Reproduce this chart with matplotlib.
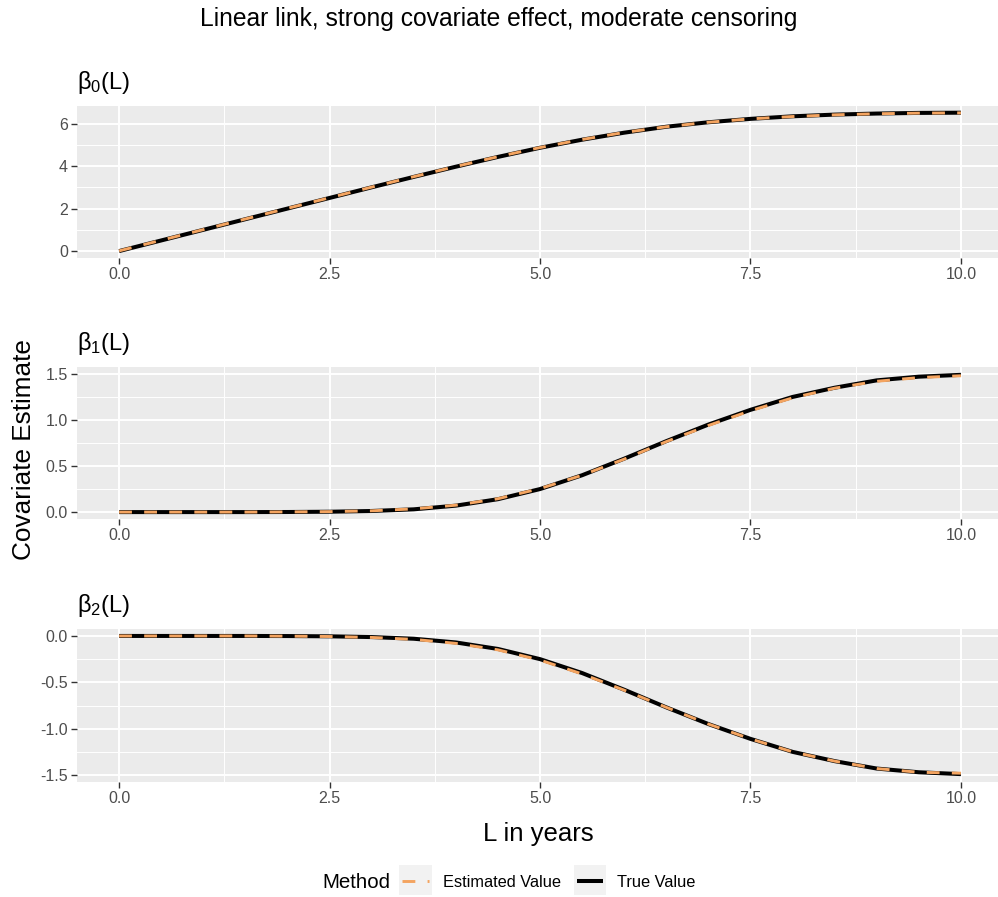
import matplotlib
matplotlib.use("Agg")
import matplotlib.pyplot as plt
from matplotlib.patches import Rectangle
from matplotlib.lines import Line2D

plt.rcParams['font.family'] = ['Liberation Sans', 'DejaVu Sans']
plt.rcParams['mathtext.fontset'] = 'custom'
plt.rcParams['mathtext.rm'] = 'Liberation Sans'
plt.rcParams['mathtext.it'] = 'Liberation Sans'

# ---------------- data ----------------
L = [0.0, 0.5, 1.0, 1.5, 2.0, 2.5, 3.0, 3.5, 4.0, 4.5, 5.0,
     5.5, 6.0, 6.5, 7.0, 7.5, 8.0, 8.5, 9.0, 9.5, 10.0]

beta0_true = [0.00, 0.50, 1.00, 1.50, 2.00, 2.50, 3.00, 3.49, 3.97, 4.43, 4.86,
              5.24, 5.57, 5.85, 6.06, 6.22, 6.34, 6.42, 6.47, 6.50, 6.51]
beta0_est = [0.01, 0.51, 1.01, 1.51, 2.01, 2.51, 3.01, 3.50, 3.98, 4.44, 4.87,
             5.25, 5.58, 5.85, 6.06, 6.22, 6.33, 6.41, 6.46, 6.49, 6.50]

beta1_true = [0.00, 0.00, 0.00, 0.00, 0.001, 0.004, 0.012, 0.03, 0.07, 0.14, 0.25,
              0.40, 0.58, 0.77, 0.95, 1.11, 1.25, 1.35, 1.43, 1.47, 1.49]
beta1_est = [0.00, 0.00, 0.00, 0.00, 0.002, 0.005, 0.014, 0.035, 0.075, 0.145, 0.255,
             0.40, 0.575, 0.765, 0.94, 1.10, 1.24, 1.345, 1.42, 1.46, 1.48]

beta2_true = [0.00, 0.00, 0.00, 0.00, -0.001, -0.004, -0.012, -0.03, -0.07, -0.14, -0.25,
              -0.40, -0.58, -0.77, -0.95, -1.11, -1.25, -1.35, -1.43, -1.47, -1.49]
beta2_est = [0.00, 0.00, 0.00, 0.00, -0.002, -0.006, -0.016, -0.037, -0.08, -0.15, -0.26,
             -0.41, -0.585, -0.77, -0.95, -1.11, -1.25, -1.35, -1.43, -1.47, -1.48]

panel_titles = [r'$\mathregular{\beta_0}$(L)', r'$\mathregular{\beta_1}$(L)', r'$\mathregular{\beta_2}$(L)']
x_ticks = [0.0, 2.5, 5.0, 7.5, 10.0]
x_minor = [1.25, 3.75, 6.25, 8.75]
y_ticks = [[0, 2, 4, 6], [0.0, 0.5, 1.0, 1.5], [-1.5, -1.0, -0.5, 0.0]]
y_minor = [[1, 3, 5], [0.25, 0.75, 1.25], [-1.25, -0.75, -0.25]]
y_labels = [['0', '2', '4', '6'], ['0.0', '0.5', '1.0', '1.5'], ['-1.5', '-1.0', '-0.5', '0.0']]
y_lims = [(-0.325, 6.825), (-0.075, 1.575), (-1.575, 0.075)]
series = [(beta0_true, beta0_est), (beta1_true, beta1_est), (beta2_true, beta2_est)]

# ---------------- figure ----------------
W, H = 998, 897
fig = plt.figure(figsize=(W / 100, H / 100), dpi=100)

ORANGE = '#F4A460'
BG = '#EBEBEB'
panels = [(106, 258), (367, 519), (629, 782)]
left_px, right_px = 77, 998

def fx(px):
    return px / W

def fy(py):
    return 1 - py / H

for i, (top, bot) in enumerate(panels):
    ax = fig.add_axes([fx(left_px), fy(bot), fx(right_px - left_px), (bot - top) / H])
    ax.set_facecolor(BG)
    for s in ax.spines.values():
        s.set_visible(False)
    ax.set_xlim(-0.5, 10.44)
    ax.set_ylim(*y_lims[i])
    ax.set_xticks(x_ticks)
    ax.set_xticklabels([f'{v:.1f}' for v in x_ticks])
    ax.set_xticks(x_minor, minor=True)
    ax.set_yticks(y_ticks[i])
    ax.set_yticklabels(y_labels[i])
    ax.set_yticks(y_minor[i], minor=True)
    ax.tick_params(which='major', length=4, width=1.0, color='#333333',
                   labelsize=11.5, labelcolor='#4D4D4D', pad=2.5)
    ax.tick_params(which='minor', length=0)
    ax.grid(which='major', color='white', linewidth=1.4)
    ax.grid(which='minor', color='white', linewidth=0.7)
    ax.set_axisbelow(True)

    true_v, est_v = series[i]
    ax.plot(L, true_v, color='black', linewidth=2.9, solid_capstyle='butt',
            solid_joinstyle='round', zorder=3)
    ax.plot(L, est_v, color=ORANGE, linewidth=2.1, linestyle=(0, (4.4, 4.2)),
            dash_capstyle='butt', dash_joinstyle='round', zorder=4)

    fig.text(fx(77), fy(top - 24), panel_titles[i], fontsize=17, ha='left', va='center',
             color='black')

# titles
fig.text(0.5, fy(19), 'Linear link, strong covariate effect, moderate censoring',
         fontsize=17.7, ha='center', va='center')
fig.text(fx(538), fy(834), 'L in years', fontsize=18.5, ha='center', va='center')
fig.text(fx(24), fy(450), 'Covariate Estimate', fontsize=18.8, rotation=90,
         ha='center', va='center')

# legend
fig.text(fx(322), fy(882), 'Method', fontsize=14.8, ha='left', va='center')
for (x0, x1), color, lw, ls, label, tx in [
        ((399, 432), ORANGE, 2.1, (0, (4.4, 4.2)), 'Estimated Value', 443),
        ((574, 606), 'black', 2.9, '-', 'True Value', 617)]:
    fig.patches.append(Rectangle((fx(x0), fy(895)), fx(x1 - x0), 30 / H,
                                 transform=fig.transFigure, facecolor='#F2F2F2',
                                 edgecolor='none'))
    fig.lines.append(Line2D([fx(x0 + 3), fx(x1 - 3)], [fy(881), fy(881)],
                            transform=fig.transFigure, color=color, linewidth=lw,
                            linestyle=ls, dash_capstyle='butt', solid_capstyle='butt'))
    fig.text(fx(tx), fy(882), label, fontsize=11.8, ha='left', va='center')

fig.savefig('out.png', dpi=100)
